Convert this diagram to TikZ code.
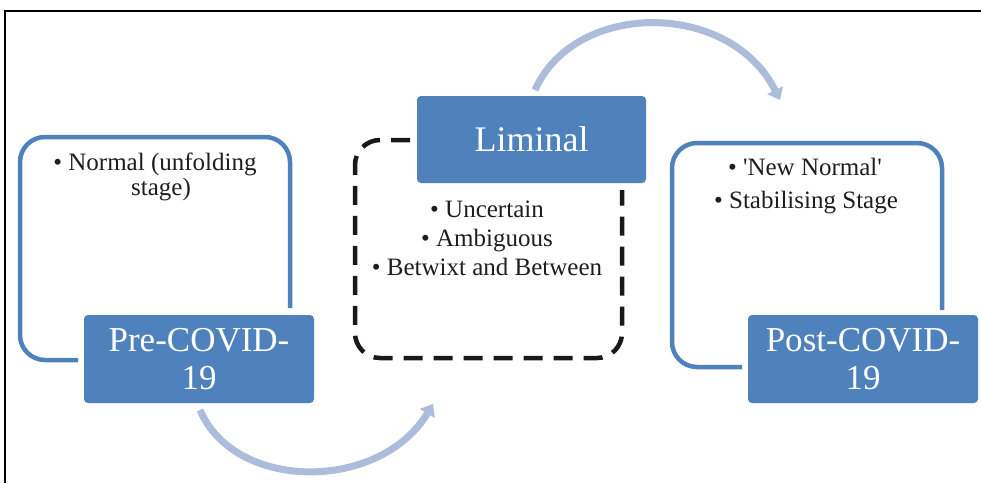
\documentclass[tikz,border=0pt]{standalone}
\usepackage{fontspec}
\setmainfont{Liberation Serif}
\usetikzlibrary{arrows.meta}
\definecolor{boxblue}{RGB}{79,129,189}
\definecolor{arrowblue}{RGB}{172,188,218}
\definecolor{txt}{RGB}{30,30,30}
\tikzset{
  stagebox/.style={fill=boxblue, draw=none, rounded corners=4pt, text=white, align=center, inner sep=0pt,
    minimum width=230pt, minimum height=88pt, font=\fontsize{35}{38}\selectfont},
  outlinebox/.style={draw=boxblue, line width=4.5pt, rounded corners=25pt},
  dashbox/.style={draw=black!90, line width=4.5pt, rounded corners=25pt, dash pattern=on 19pt off 11pt},
  bullettext/.style={text=txt, anchor=base, inner sep=0pt, font=\fontsize{25}{29}\selectfont},
  flowarrow/.style={draw=arrowblue, line width=7pt, -{Triangle[width=17pt,length=11pt]}},
  frameline/.style={draw=black, line width=2pt}
}
\begin{document}
\begin{tikzpicture}[x=1pt,y=-1pt]
\useasboundingbox (0,0) rectangle (981,483);
% frame
\coordinate (fTL) at (5,11);
\coordinate (fTR) at (981,11);
\coordinate (fBL) at (5,483);
\draw[frameline] (fTR) -- (fTL) -- (fBL);

% left stage
\draw[outlinebox] (78,360) -- (20,360) -- (20,137) -- (290,137) -- (290,308);
\node[stagebox] (pre) at (199,359) {Pre-COVID-\\19};
\node[bullettext] (pre1) at (155,170) {\textbullet\ Normal (unfolding};
\node[bullettext] (pre2) at (161,195) {stage)};

% middle stage
\draw[dashbox] (410,140) -- (355,140) -- (355,358) -- (622,358) -- (622,190);
\node[stagebox, minimum height=87pt, minimum width=229pt, font=\fontsize{36}{40}\selectfont] (lim) at (531.5,139.5) {Liminal};
\node[bullettext] (lim1) at (487,217) {\textbullet\ Uncertain};
\node[bullettext] (lim2) at (487,246) {\textbullet\ Ambiguous};
\node[bullettext] (lim3) at (487,275) {\textbullet\ Betwixt and Between};

% right stage
\draw[outlinebox] (742,367) -- (672,367) -- (672,143) -- (942,143) -- (942,310);
\node[stagebox] (post) at (863,359) {Post-COVID-\\19};
\node[bullettext] (post1) at (805,175) {\textbullet\ \textquotesingle New Normal\textquotesingle};
\node[bullettext] (post2) at (806,208) {\textbullet\ Stabilising Stage};

% arrows
\coordinate (a1s) at (200,410);
\coordinate (a1e) at (433,404);
\coordinate (a2s) at (535,90);
\coordinate (a2e) at (780,100);
\path[flowarrow] (a1s) .. controls (235,492) and (380,492) .. (a1e);
\path[flowarrow] (a2s) .. controls (575,0) and (730,0) .. (a2e);
\end{tikzpicture}
\end{document}
